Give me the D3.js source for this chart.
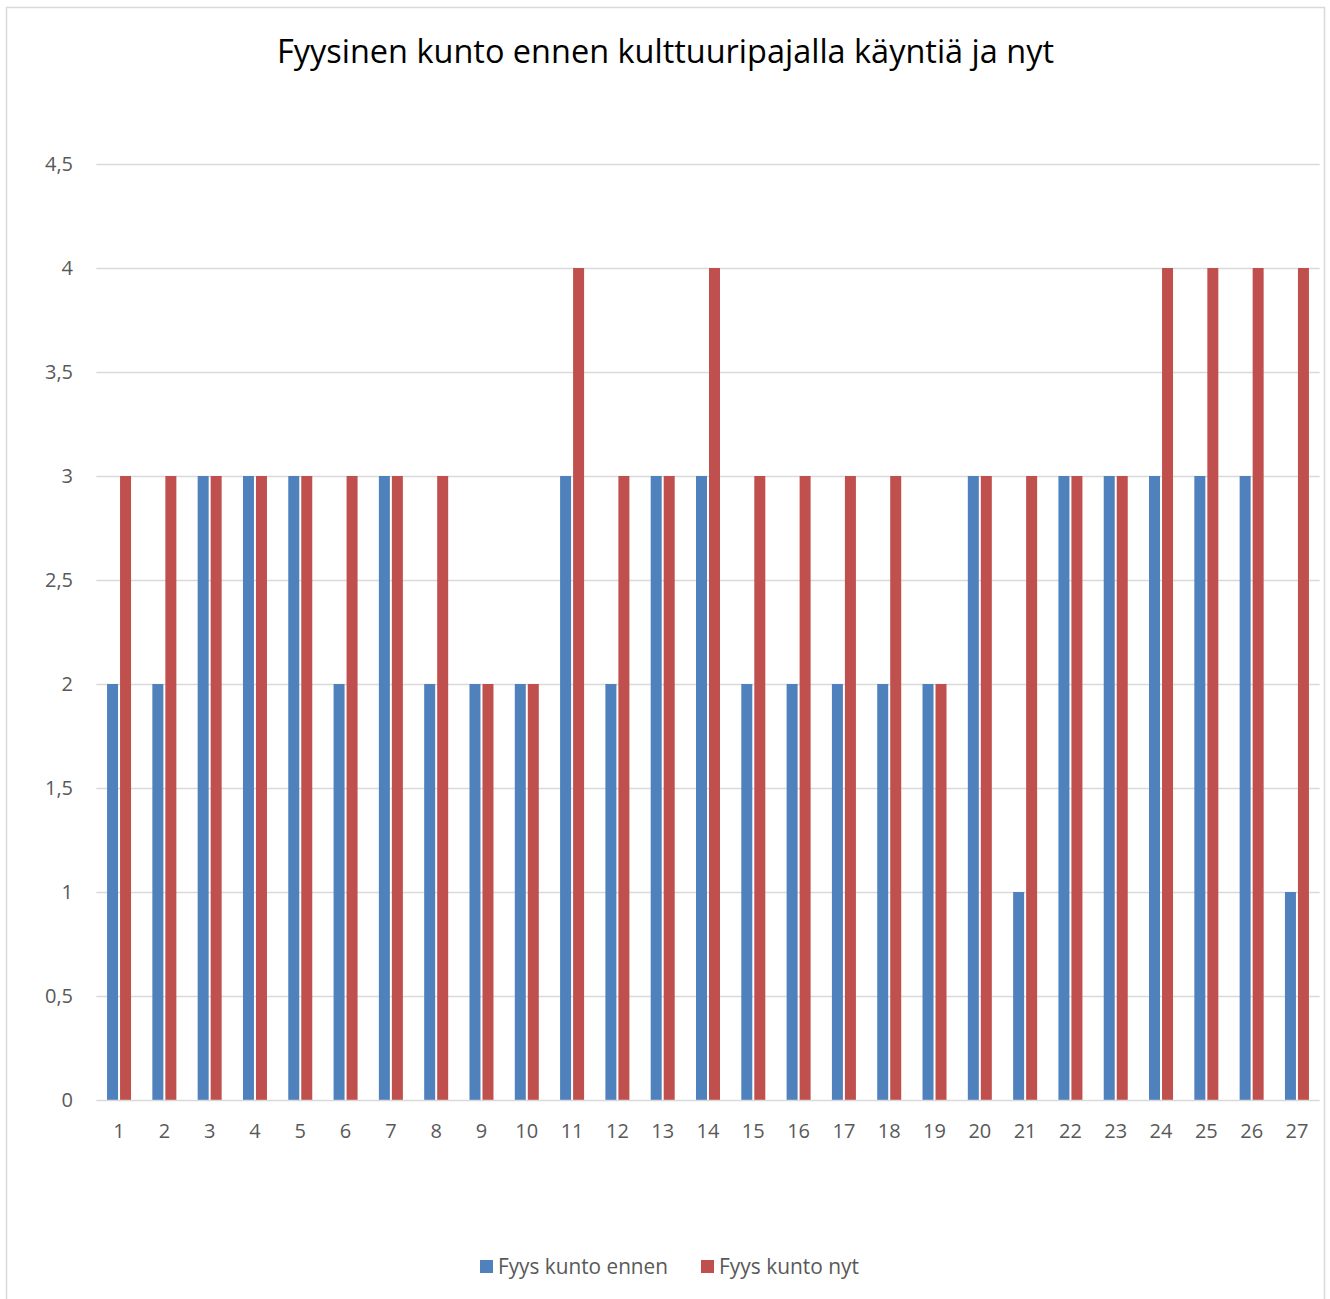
<!DOCTYPE html>
<html>
<head>
<meta charset="utf-8">
<script src="https://cdn.jsdelivr.net/npm/d3@7"></script>
<style>
  html, body { margin: 0; padding: 0; background: #fff; }
  svg { display: block; }
</style>
</head>
<body>
<script>
// Respondents 1..27 and their self-rated physical condition before and now
const categories = d3.range(1, 28).map(String);
const ennen = [2, 2, 3, 3, 3, 2, 3, 2, 2, 2, 3, 2, 3, 3, 2, 2, 2, 2, 2, 3, 1, 3, 3, 3, 3, 3, 1];
const nyt   = [3, 3, 3, 3, 3, 3, 3, 3, 2, 2, 4, 3, 3, 4, 3, 3, 3, 3, 2, 3, 3, 3, 3, 4, 4, 4, 4];
const seriesNames = ["Fyys kunto ennen", "Fyys kunto nyt"];
const yTicks = [0, 0.5, 1, 1.5, 2, 2.5, 3, 3.5, 4, 4.5];

const W = 1330, H = 1299;
const colors = ["#4f81bd", "#c0504d"];
const font = "'Open Sans', 'Noto Sans', sans-serif";

const svg = d3.select("body").append("svg").attr("width", W).attr("height", H);

// chart frame
svg.append("rect")
  .attr("x", 6.5).attr("y", 7.5).attr("width", 1318).attr("height", 1300)
  .attr("fill", "#fff").attr("stroke", "#d9d9d9").attr("stroke-width", 1.5);

// title
svg.append("text")
  .attr("x", 665.5).attr("y", 63)
  .attr("text-anchor", "middle")
  .attr("font-family", font).attr("font-size", 33).attr("fill", "#000")
  .attr("textLength", 777).attr("lengthAdjust", "spacingAndGlyphs")
  .text("Fyysinen kunto ennen kulttuuripajalla käyntiä ja nyt");

const plot = { left: 96.4, right: 1319.6, top: 164, bottom: 1100 };

const x = d3.scaleBand().domain(categories).range([plot.left, plot.right]).padding(0);
const y = d3.scaleLinear().domain([0, 4.5]).range([plot.bottom, plot.top]);

const barW = 11, gap = 2;
const xs = d3.scaleOrdinal().domain([0, 1]).range([-(barW + gap / 2), gap / 2]);

// gridlines
svg.append("g")
  .selectAll("line").data(yTicks.filter(d => d > 0)).join("line")
  .attr("x1", plot.left).attr("x2", plot.right)
  .attr("y1", d => Math.round(y(d)) + 0.5).attr("y2", d => Math.round(y(d)) + 0.5)
  .attr("stroke", "#d9d9d9").attr("stroke-width", 1.5);

// y tick labels
svg.append("g")
  .selectAll("text").data(yTicks).join("text")
  .attr("x", 73).attr("y", d => y(d))
  .attr("dy", "0.35em").attr("text-anchor", "end")
  .attr("font-family", font).attr("font-size", 20).attr("fill", "#595959")
  .text(d => String(d).replace(".", ","));

// bars
const data = [ennen, nyt];
data.forEach((vals, si) => {
  svg.append("g")
    .selectAll("rect").data(vals).join("rect")
    .attr("x", (d, i) => x(categories[i]) + x.bandwidth() / 2 + xs(si))
    .attr("y", d => y(d))
    .attr("width", barW)
    .attr("height", d => y(0) - y(d))
    .attr("fill", colors[si]);
});

// x axis line
svg.append("line")
  .attr("x1", plot.left).attr("x2", plot.right)
  .attr("y1", plot.bottom + 0.5).attr("y2", plot.bottom + 0.5)
  .attr("stroke", "#d9d9d9").attr("stroke-width", 1.5);

// x tick labels
svg.append("g")
  .selectAll("text").data(categories).join("text")
  .attr("x", d => x(d) + x.bandwidth() / 2)
  .attr("y", 1131).attr("dy", "0.35em")
  .attr("text-anchor", "middle")
  .attr("font-family", font).attr("font-size", 20).attr("fill", "#595959")
  .text(d => d);

// legend
const legendX = [480, 701];
const legendW = [170, 140];
const legend = svg.append("g");
seriesNames.forEach((name, i) => {
  legend.append("rect")
    .attr("x", legendX[i]).attr("y", 1260).attr("width", 13).attr("height", 13)
    .attr("fill", colors[i]);
  legend.append("text")
    .attr("x", legendX[i] + 18).attr("y", 1267).attr("dy", "0.35em")
    .attr("font-family", font).attr("font-size", 21).attr("fill", "#595959")
    .attr("textLength", legendW[i]).attr("lengthAdjust", "spacingAndGlyphs")
    .text(name);
});
</script>
</body>
</html>
